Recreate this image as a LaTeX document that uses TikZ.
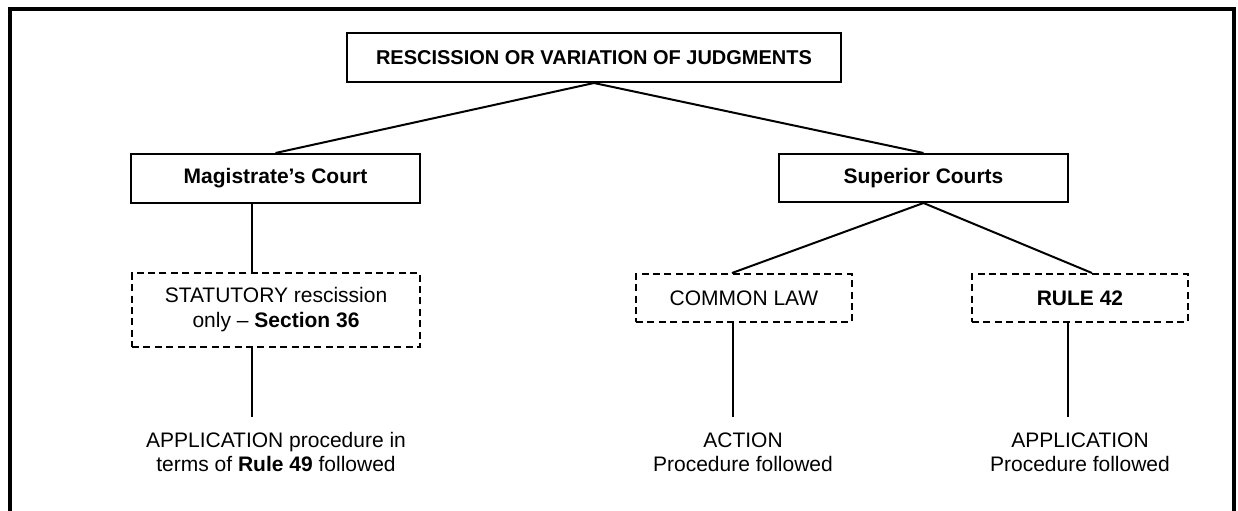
\documentclass[tikz,border=0pt]{standalone}
\usepackage{fontspec}
\setmainfont{Liberation Sans}
\usetikzlibrary{calc}
\tikzset{
  solidbox/.style={draw, line width=1pt, inner sep=0pt, align=center,
    font=\fontsize{10.5}{12}\selectfont\bfseries},
  dashbox/.style={draw, line width=1pt, dash pattern=on 3.5pt off 2.2pt,
    inner sep=0pt, align=center, font=\fontsize{10.5}{12.5}\selectfont},
  outcome/.style={inner xsep=0pt, inner ysep=7.5pt, align=center,
    font=\fontsize{10.5}{12}\selectfont},
  link/.style={line width=1pt},
  frameline/.style={line width=1.6pt}
}
\begin{document}
\begin{tikzpicture}[x=0.5pt,y=-0.5pt]
\useasboundingbox (0,0) rectangle (1238,510);
% outer frame, open at the foot
\draw[frameline] (10,530) -- (10,9) -- (1234,9) -- (1234,530);

% top level
\node[solidbox, font=\fontsize{10}{12}\selectfont\bfseries,
      minimum width=247pt, minimum height=24.5pt] (top) at (594,57.5)
  {RESCISSION OR VARIATION OF JUDGMENTS};

% courts
\node[solidbox, minimum width=144.5pt, minimum height=24.5pt] (mag) at (275.5,178.5)
  {Magistrate’s Court};
\node[solidbox, minimum width=144.5pt, minimum height=24pt] (sup) at (923.5,178)
  {Superior Courts};

% grounds
\node[dashbox, minimum width=144pt, minimum height=37pt] (stat) at (276,310)
  {STATUTORY rescission\\only -- \textbf{Section 36}};
\node[dashbox, minimum width=108pt, minimum height=24pt] (cl) at (744,298)
  {COMMON LAW};
\node[dashbox, minimum width=108pt, minimum height=24pt, font=\fontsize{10.5}{12}\selectfont\bfseries] (r42) at (1080,298)
  {RULE 42};

% procedures
\node[outcome] (p1) at (276,452)
  {APPLICATION procedure in\\terms of \textbf{Rule 49} followed};
\node[outcome] (p2) at (743,452)
  {ACTION\\Procedure followed};
\node[outcome] (p3) at (1080,452)
  {APPLICATION\\Procedure followed};

% connectors
\draw[link] (top.south) -- (mag.north);
\draw[link] (top.south) -- (sup.north);
\draw[link] (sup.south) -- ([xshift=-6pt]cl.north);
\draw[link] (sup.south) -- ([xshift=6pt]r42.north);
\coordinate (magfoot) at ([xshift=-11.75pt]mag.south);
\coordinate (statfoot) at ([xshift=-12pt]stat.south);
\coordinate (clfoot) at ([xshift=-5.5pt]cl.south);
\coordinate (rfoot) at ([xshift=-6pt]r42.south);
\draw[link] (magfoot) -- (magfoot |- stat.north);
\draw[link] (statfoot) -- (statfoot |- p1.north);
\draw[link] (clfoot) -- (clfoot |- p2.north);
\draw[link] (rfoot) -- (rfoot |- p3.north);
\end{tikzpicture}
\end{document}
